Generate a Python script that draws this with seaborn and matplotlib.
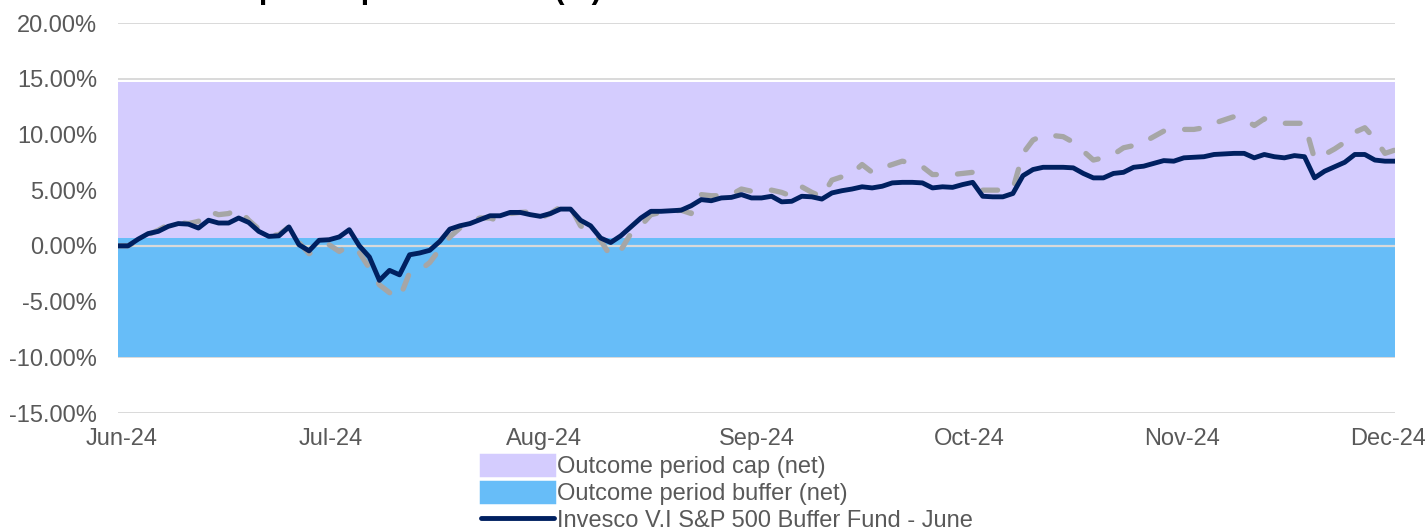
import numpy as np
import pandas as pd
import matplotlib.pyplot as plt
import seaborn as sns
import matplotlib.patches as mpatches
from matplotlib.lines import Line2D
from matplotlib.transforms import ScaledTranslation


month_labels = ["Jun-24", "Jul-24", "Aug-24", "Sep-24", "Oct-24", "Nov-24", "Dec-24"]

# cumulative return (%) by trading day
fund = [0.0, 0.0, 0.6, 1.1, 1.3, 1.75, 2.0, 1.95, 1.6, 2.3,
        2.05, 2.05, 2.5, 2.1, 1.3, 0.85, 0.9, 1.7, 0.1, -0.45,
        0.5, 0.55, 0.8, 1.45, 0.0, -1.0, -3.1, -2.2, -2.6, -0.8,
        -0.64, -0.4, 0.4, 1.5, 1.8, 2.0, 2.35, 2.7, 2.7, 3.0,
        3.0, 2.8, 2.65, 2.9, 3.3, 3.3, 2.3, 1.8, 0.7, 0.3,
        0.9, 1.7, 2.5, 3.1, 3.1, 3.15, 3.2, 3.6, 4.15, 4.05,
        4.3, 4.35, 4.6, 4.3, 4.3, 4.45, 3.95, 4.0, 4.45, 4.4,
        4.2, 4.75, 4.95, 5.1, 5.3, 5.2, 5.35, 5.65, 5.7, 5.7,
        5.65, 5.2, 5.3, 5.25, 5.5, 5.7, 4.45, 4.4, 4.4, 4.7,
        6.3, 6.85, 7.05, 7.05, 7.05, 7.0, 6.5, 6.1, 6.1, 6.5,
        6.6, 7.05, 7.15, 7.4, 7.65, 7.6, 7.9, 7.95, 8.0, 8.2,
        8.25, 8.3, 8.3, 7.9, 8.2, 8.0, 7.9, 8.1, 8.0, 6.1,
        6.7, 7.1, 7.5, 8.2, 8.2, 7.7, 7.6, 7.6]

index = [0.0, 0.0, 0.5, 1.0, 1.4, 1.9, 2.1, 2.0, 2.2, 3.1,
         2.8, 2.9, 3.3, 2.3, 1.5, 0.9, 1.0, 1.7, 0.3, -0.7,
         -0.3, 0.1, -0.5, 0.0, -0.6, -2.0, -3.5, -4.2, -4.7, -2.4,
         -2.2, -1.5, -0.3, 0.8, 1.6, 2.1, 2.5, 2.5, 2.2, 2.9,
         3.0, 3.05, 2.5, 2.9, 3.5, 3.5, 1.8, 1.2, 0.5, -0.95,
         -0.4, 1.1, 1.8, 2.8, 3.0, 3.1, 3.2, 2.9, 4.6, 4.5,
         4.5, 4.6, 5.1, 4.9, 5.0, 5.0, 4.8, 4.45, 5.3, 4.8,
         4.4, 5.9, 6.2, 6.5, 7.3, 6.6, 7.0, 7.3, 7.6, 7.4,
         7.1, 6.4, 6.4, 6.4, 6.5, 6.6, 5.0, 5.0, 5.0, 5.1,
         8.3, 9.5, 9.9, 9.9, 9.8, 9.3, 8.5, 7.7, 7.9, 8.2,
         8.8, 9.0, 9.3, 9.8, 10.3, 10.4, 10.45, 10.45, 10.6, 11.0,
         11.3, 11.6, 11.4, 10.8, 11.4, 11.2, 11.0, 11.0, 11.0, 7.8,
         8.2, 8.7, 9.3, 10.2, 10.6, 9.6, 8.3, 8.6]

cap_top = 14.7
buffer_top = 0.75
buffer_bottom = -10.0

title = "Outcome period performance (%)"

df = pd.DataFrame({"day": np.arange(len(fund)), "fund": fund, "index": index})

lavender = "#D4CCFE"
sky = "#67BDF8"
navy = "#002060"
grey = "#A6A6A6"
txt = "#595959"

sns.set_style("white")
plt.rcParams['font.family'] = ['Liberation Sans', 'DejaVu Sans']

W, H = 1425, 529
fig = plt.figure(figsize=(W / 100, H / 100), dpi=100)
ax = fig.add_axes([118 / W, 1 - 413 / H, (1395 - 118) / W, (413 - 23) / H])

ax.fill_between(df["day"], buffer_top, cap_top, color=lavender, lw=0, zorder=1)
ax.fill_between(df["day"], buffer_bottom, buffer_top, color=sky, lw=0, zorder=1)
ax.axhline(0, color="#D9D9D9", lw=1.6, zorder=2)

sns.lineplot(data=df, x="day", y="index", ax=ax, color=grey, lw=3.8,
             linestyle=(0, (2.8, 4.0)), dash_capstyle="round", legend=False, zorder=3)
sns.lineplot(data=df, x="day", y="fund", ax=ax, color=navy, lw=3.5,
             solid_capstyle="round", solid_joinstyle="round", legend=False, zorder=4)

ax.set_xlim(0, len(fund) - 1)
ax.set_ylim(-15, 20)
ax.set_xticks(np.linspace(0, len(fund) - 1, len(month_labels)))
ax.set_xticklabels(month_labels)
yt = np.arange(-15, 21, 5)
ax.set_yticks(yt)
ax.set_yticklabels([f"{v:.2f}%" for v in yt])
ax.set_xlabel("")
ax.set_ylabel("")
ax.yaxis.grid(True, color="#D9D9D9", lw=1.4)
ax.xaxis.grid(False)
ax.set_axisbelow(True)
sns.despine(ax=ax, left=True, bottom=True)
ax.tick_params(length=0, labelsize=17, colors=txt)
ax.tick_params(axis="y", pad=15)
ax.tick_params(axis="x", pad=11)

# nudge the end labels inward like the original
xl = ax.get_xticklabels()
xl[0].set_transform(xl[0].get_transform() + ScaledTranslation(0.04, 0, fig.dpi_scale_trans))
xl[-1].set_transform(xl[-1].get_transform() + ScaledTranslation(-0.07, 0, fig.dpi_scale_trans))

# title sits above the cropped top edge, only its descenders show
fig.text(118 / W, 1 + 2 / H, title, ha="left", va="baseline",
         fontsize=22, fontweight="bold", color="black")

handles = [
    mpatches.Patch(facecolor=lavender, edgecolor=lavender, lw=2.5, joinstyle="round"),
    mpatches.Patch(facecolor=sky, edgecolor=sky, lw=2.5, joinstyle="round"),
    Line2D([], [], color=navy, lw=3.5, solid_capstyle="round"),
]
labels = ["Outcome period cap (net)", "Outcome period buffer (net)",
          "Invesco V.I S&P 500 Buffer Fund - June"]
leg = fig.legend(handles, labels, loc="upper left", bbox_to_anchor=(481 / W, 1 - 455 / H),
                 bbox_transform=fig.transFigure, frameon=False, fontsize=17,
                 handlelength=3.1, handleheight=0.95, handletextpad=0.1,
                 labelspacing=0.16, borderpad=0, borderaxespad=0)
for t in leg.get_texts():
    t.set_color(txt)

fig.savefig("out.png", dpi=100)
